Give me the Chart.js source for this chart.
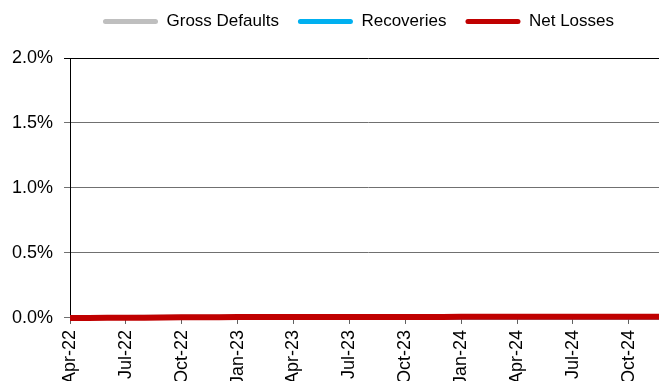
<!DOCTYPE html>
<html>
<head>
<meta charset="utf-8">
<script src="https://cdn.jsdelivr.net/npm/chart.js@4.4.1/dist/chart.umd.min.js"></script>
<style>
    html, body { margin: 0; padding: 0; background: #fff; overflow: hidden; }
    #wrap { width: 714px; height: 391px; }
</style>
</head>
<body>
<div id="wrap"><canvas id="chartLosses" width="714" height="391"></canvas></div>
<script>
// Cumulative loss ratios, % of original balance

const months = [
    "Apr-22", "May-22", "Jun-22", "Jul-22", "Aug-22", "Sep-22", "Oct-22", "Nov-22", "Dec-22",
    "Jan-23", "Feb-23", "Mar-23", "Apr-23", "May-23", "Jun-23", "Jul-23", "Aug-23", "Sep-23",
    "Oct-23", "Nov-23", "Dec-23", "Jan-24", "Feb-24", "Mar-24", "Apr-24", "May-24", "Jun-24",
    "Jul-24", "Aug-24", "Sep-24", "Oct-24", "Nov-24", "Dec-24"
];

const grossDefaults = [
    0.004, 0.004, 0.004, 0.004, 0.005, 0.005, 0.006, 0.006, 0.006,
    0.007, 0.007, 0.007, 0.007, 0.007, 0.008, 0.008, 0.008, 0.008,
    0.008, 0.008, 0.008, 0.009, 0.009, 0.009, 0.009, 0.009, 0.009,
    0.009, 0.009, 0.010, 0.010, 0.010, 0.010
];

const recoveries = [
    0, 0, 0, 0, 0, 0, 0, 0, 0,
    0, 0, 0, 0, 0, 0, 0, 0, 0,
    0, 0, 0, 0, 0, 0, 0, 0, 0,
    0, 0, 0, 0, 0, 0
];

const netLosses = [
    0.000, 0.000, 0.001, 0.001, 0.002, 0.003, 0.005, 0.006, 0.006,
    0.007, 0.007, 0.007, 0.007, 0.007, 0.008, 0.008, 0.008, 0.008,
    0.008, 0.008, 0.008, 0.009, 0.009, 0.009, 0.009, 0.009, 0.009,
    0.009, 0.009, 0.010, 0.010, 0.010, 0.010
];

const yTicks = [0, 0.5, 1.0, 1.5, 2.0];

const family = "'Liberation Sans', Arial, sans-serif";

const lineSet = (label, data, color, width, order) => ({
    label: label,
    data: data,
    borderColor: color,
    backgroundColor: color,
    borderWidth: width,
    pointRadius: 0,
    tension: 0,
    clip: false,
    order: order,
});

// legend: more room below it, and nudged right
const legendTweak = {
    id: "legendTweak",
    beforeUpdate(chart) {
        const legend = chart.legend;
        if (!legend || legend._patched) return;
        const fit = legend.fit;
        legend.fit = function () {
            fit.call(this);
            this.height += 18;
        };
        legend._patched = true;
    },
    afterLayout(chart) {
        chart.legend.left += 25;
        chart.legend.right += 25;
    },
};

const config = {
    type: "line",
    data: {
        labels: months,
        datasets: [
            lineSet("Gross Defaults", grossDefaults, "#BFBFBF", 5, 3),
            lineSet("Recoveries", recoveries, "#00B0F0", 3, 2),
            lineSet("Net Losses", netLosses, "#C00000", 6, 1),
        ],
    },
    options: {
        responsive: false,
        animation: false,
        layout: { padding: { left: 1, right: 48, top: -6, bottom: 0 } },
        plugins: {
            legend: {
                position: "top",
                labels: {
                    color: "#000",
                    font: { family: family, size: 17 },
                    boxWidth: 55,
                    boxHeight: 5,
                    useBorderRadius: true,
                    borderRadius: 2.5,
                    padding: 19,
                    sort: (a, b) => a.datasetIndex - b.datasetIndex,
                    generateLabels: (chart) =>
                        Chart.defaults.plugins.legend.labels.generateLabels(chart).map((item) => {
                            item.lineWidth = 0;
                            return item;
                        }),
                },
            },
            tooltip: { enabled: false },
        },
        scales: {
            x: {
                offset: false,
                border: { color: "#000", width: 1 },
                grid: {
                    drawOnChartArea: false,
                    drawTicks: true,
                    tickLength: 6,
                    color: "#606060",
                },
                afterBuildTicks: (axis) => {
                    axis.ticks = axis.ticks.filter((t) => t.value % 3 === 0);
                },
                ticks: {
                    color: "#000",
                    font: { family: family, size: 18 },
                    autoSkip: false,
                    maxRotation: 90,
                    minRotation: 90,
                    padding: 6,
                },
            },
            y: {
                min: 0,
                max: 2,
                afterBuildTicks: (axis) => {
                    axis.ticks = yTicks.map((v) => ({ value: v }));
                },
                border: { color: "#000", width: 1 },
                grid: {
                    tickLength: 6,
                    color: (ctx) => (ctx.tick && ctx.tick.value === 2 ? "#000" : "#707070"),
                },
                ticks: {
                    color: "#000",
                    font: { family: family, size: 18 },
                    padding: 11,
                    callback: (value) => value.toFixed(1) + "%",
                },
            },
        },
    },
    plugins: [legendTweak],
};

new Chart(document.getElementById("chartLosses"), config);
</script>
</body>
</html>
